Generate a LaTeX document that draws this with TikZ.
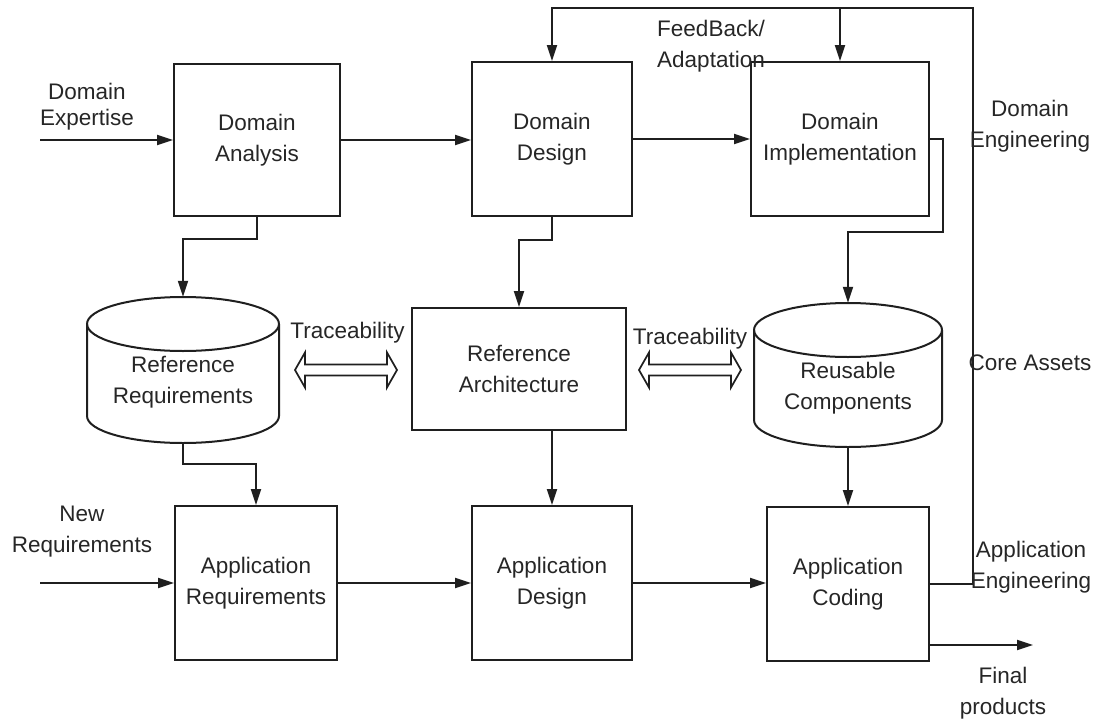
\documentclass[tikz,border=0pt]{standalone}
\usepackage{fontspec}
\setmainfont{Liberation Sans}
\usetikzlibrary{arrows.meta}
\begin{document}
\begin{tikzpicture}[x=1pt,y=-1pt,
  every node/.style={font=\fontsize{22.5}{31}\selectfont, inner sep=0pt, text=black!85},
  box/.style={draw=black!88, line width=2pt, align=center},
  lbl/.style={align=center},
  conn/.style={draw=black!88, line width=2pt, -{Triangle[length=16pt,width=10pt]}},
  cylline/.style={draw=black!88, line width=2pt, line join=round},
  dbl/.style={draw=black!88, line width=1.7pt, line join=miter}]
\useasboundingbox (0,0) rectangle (1097,720);

% process boxes
\node[box, minimum width=166pt, minimum height=152pt] (da) at (257,140) {Domain\\Analysis};
\node[box, minimum width=160pt, minimum height=154pt] (dd) at (552,139) {Domain\\Design};
\node[box, minimum width=178pt, minimum height=154pt] (di) at (840,139) {Domain\\Implementation};
\node[box, minimum width=214pt, minimum height=122pt] (ra) at (519,369) {Reference\\Architecture};
\node[box, minimum width=162pt, minimum height=154pt] (ar) at (256,583) {Application\\Requirements};
\node[box, minimum width=160pt, minimum height=154pt] (ad) at (552,583) {Application\\Design};
\node[box, minimum width=162pt, minimum height=154pt] (ac) at (848,584) {Application\\Coding};

% cylinders (named frames + drawn outlines)
\node[minimum width=192pt, minimum height=146pt] (rr) at (183,370) {};
\draw[cylline] (183,324) ellipse [x radius=96pt, y radius=27pt];
\draw[cylline] (87,324) -- (87,416) arc[start angle=180, end angle=360, x radius=96pt, y radius=27pt] -- (279,324);
\node[lbl] (rrt) at (183,382) {Reference\\Requirements};

\node[minimum width=188pt, minimum height=144pt] (rc) at (848,375) {};
\draw[cylline] (848,330) ellipse [x radius=94pt, y radius=27pt];
\draw[cylline] (754,330) -- (754,420) arc[start angle=180, end angle=360, x radius=94pt, y radius=27pt] -- (942,330);
\node[lbl] (rct) at (848,388) {Reusable\\Components};

% connectors
\coordinate (de) at (40,140);
\coordinate (nr) at (40,583);
\coordinate (fbc) at (973,8);
\coordinate (fp) at (1033,645);

\draw[conn] (de) -- (de -| da.west);
\draw[conn] (da.east) -- (da.east -| dd.west);
\draw[conn] (dd.east) -- (dd.east -| di.west);
\draw[conn] (nr) -- (nr -| ar.west);
\draw[conn] (ar.east) -- (ar.east -| ad.west);
\draw[conn] (ad.east) -- (ad.east -| ac.west);

\draw[conn] (da.south) -- ++(0,22) -| (rr.north);
\draw[conn] (dd.south) -- ++(0,23) -| (ra.north);
\draw[conn] (di.east) -- ++(13,0) -- ++(0,93) -| (rc.north);
\draw[conn] (rr.south) -- ++(0,21) -| (ar.north);
\draw[conn] (ra.south -| ad.north) -- (ad.north);
\draw[conn] (rc.south) -- (rc.south |- ac.north);

\draw[conn] (ac.east) -| (fbc) -| (dd.north);
\draw[conn] (di.north |- fbc) -- (di.north);
\draw[conn] (ac.east |- fp) -- (fp);

% traceability double arrows
\draw[dbl] (295,370) -- (305,352.5) -- (305,364.5) -- (387,364.5) -- (387,352.5) -- (397,370) -- (387,387.5) -- (387,375.5) -- (305,375.5) -- (305,387.5) -- cycle;
\draw[dbl] (639,370) -- (649,352.5) -- (649,364.5) -- (731,364.5) -- (731,352.5) -- (741,370) -- (731,387.5) -- (731,375.5) -- (649,375.5) -- (649,387.5) -- cycle;

% labels
\node[lbl, font=\fontsize{22.5}{26}\selectfont] (lde) at (87,106.5) {Domain\\Expertise};
\node[lbl] (lnr) at (82,532) {New\\Requirements};
\node[lbl] (lfb) at (711,46) {FeedBack/\\Adaptation};
\node[lbl] (ltr1) at (347.5,333) {Traceability};
\node[lbl] (ltr2) at (690,338.5) {Traceability};
\node[lbl] (lden) at (1030,126) {Domain\\Engineering};
\node[lbl] (lca) at (1030,363) {Core Assets};
\node[lbl] (lae) at (1031,567) {Application\\Engineering};
\node[lbl] (lfp) at (1003,693) {Final\\products};
\end{tikzpicture}
\end{document}
